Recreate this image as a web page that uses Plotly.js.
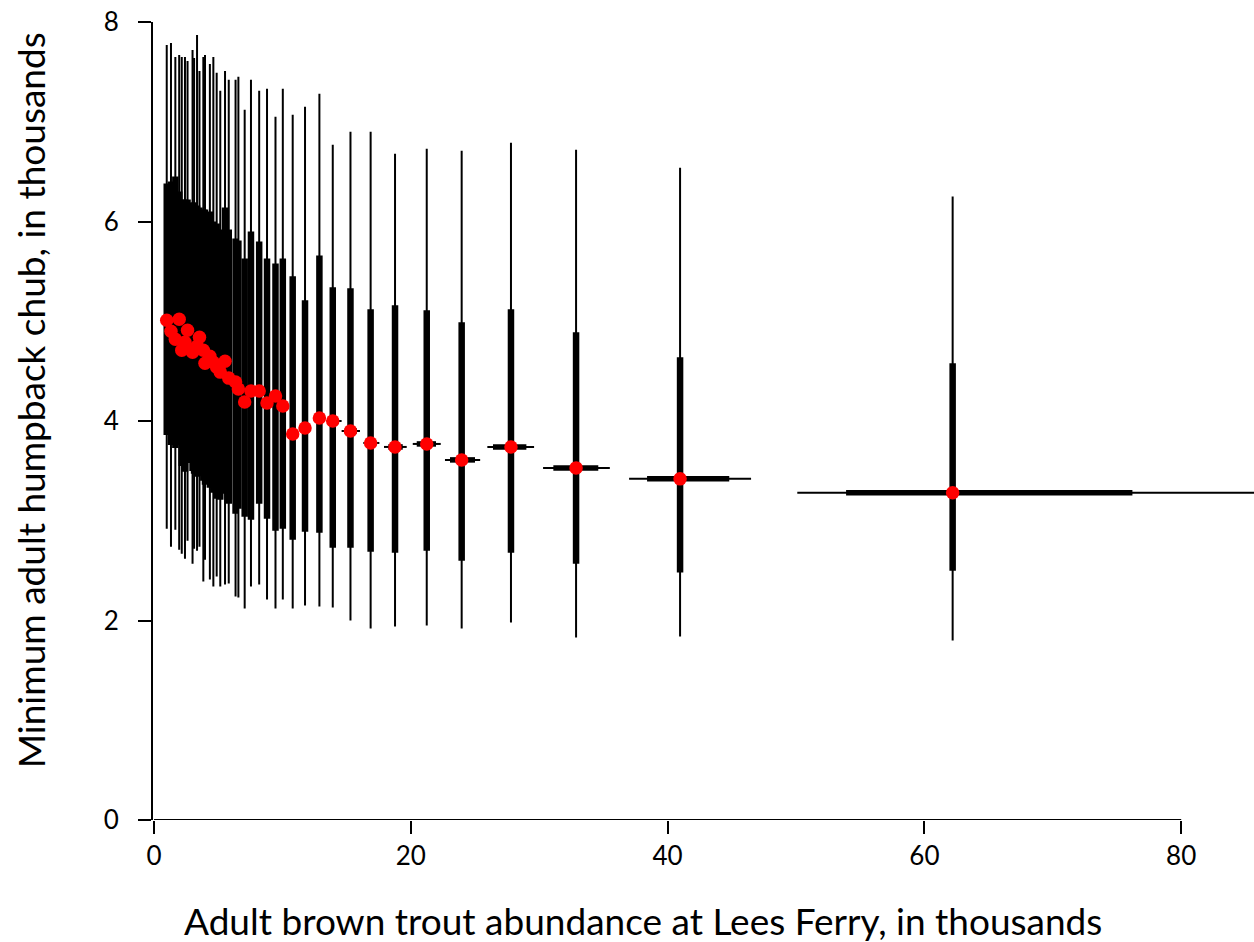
<!DOCTYPE html>
<html>
<head>
<meta charset="utf-8">
<script src="https://cdn.plot.ly/plotly-3.0.1.min.js"></script>
<style>
  html, body { margin: 0; padding: 0; background: #fff; }
  #chart { width: 1254px; height: 942px; }
</style>
</head>
<body>
<div id="chart"></div>
<script>
// Adult brown trout abundance (thousands): median and credible intervals
const troutMid  = [0.99, 1.32, 1.66, 1.96, 2.16, 2.41, 2.61, 3.00, 3.12, 3.35, 3.54, 3.84, 3.97, 4.35, 4.62, 4.88, 5.16, 5.53, 5.82, 6.35, 6.57, 7.06, 7.55, 8.19, 8.80, 9.46, 10.03,
                   10.80, 11.76, 12.88, 13.92, 15.30, 16.87, 18.77, 21.24, 23.96, 27.80, 32.87, 40.97, 62.20];
const troutLo95 = [0.95, 1.27, 1.60, 1.88, 2.07, 2.31, 2.51, 2.88, 3.00, 3.22, 3.40, 3.69, 3.81, 4.18, 4.44, 4.69, 4.95, 5.31, 5.59, 6.10, 6.31, 6.78, 7.25, 7.86, 8.45, 9.08, 9.60,
                   10.35, 11.30, 12.40, 13.44, 14.61, 16.30, 17.91, 20.15, 22.66, 25.96, 30.30, 37.00, 50.10];
const troutHi95 = [1.03, 1.37, 1.73, 2.04, 2.25, 2.51, 2.71, 3.12, 3.24, 3.48, 3.68, 3.99, 4.13, 4.52, 4.80, 5.08, 5.37, 5.75, 6.05, 6.60, 6.83, 7.34, 7.85, 8.52, 9.15, 9.84, 10.46,
                   11.25, 12.22, 13.36, 14.61, 16.04, 17.55, 19.68, 22.33, 25.40, 29.60, 35.50, 46.50, 90.00];
const troutLo50 = [0.97, 1.29, 1.62, 1.91, 2.11, 2.35, 2.55, 2.93, 3.04, 3.27, 3.45, 3.74, 3.87, 4.24, 4.50, 4.76, 5.03, 5.39, 5.67, 6.19, 6.41, 6.88, 7.36, 7.98, 8.58, 9.22, 9.78,
                   10.55, 11.50, 12.60, 13.60, 14.85, 16.50, 18.25, 20.46, 23.05, 26.40, 31.10, 38.40, 53.90];
const troutHi50 = [1.01, 1.35, 1.70, 2.01, 2.21, 2.47, 2.67, 3.07, 3.20, 3.43, 3.63, 3.94, 4.07, 4.46, 4.74, 5.00, 5.29, 5.67, 5.97, 6.51, 6.73, 7.24, 7.74, 8.40, 9.02, 9.70, 10.28,
                   11.05, 12.02, 13.16, 14.30, 15.80, 17.30, 19.37, 21.96, 25.00, 29.00, 34.60, 44.80, 76.20];

// Minimum adult humpback chub (thousands): median and credible intervals
const chubMid  = [5.01, 4.90, 4.82, 5.02, 4.71, 4.79, 4.91, 4.69, 4.72, 4.75, 4.84, 4.71, 4.58, 4.65, 4.59, 4.54, 4.49, 4.60, 4.43, 4.39, 4.32, 4.19, 4.30, 4.30, 4.18, 4.25, 4.15,
                  3.87, 3.93, 4.03, 4.00, 3.90, 3.78, 3.74, 3.77, 3.61, 3.74, 3.53, 3.42, 3.28];
const chubLo95 = [2.92, 2.74, 2.91, 2.71, 2.67, 2.62, 2.80, 2.57, 2.72, 2.70, 2.74, 2.39, 2.61, 2.41, 2.34, 2.44, 2.34, 2.36, 2.37, 2.24, 2.23, 2.12, 2.34, 2.36, 2.21, 2.12, 2.21,
                  2.12, 2.15, 2.14, 2.13, 2.00, 1.92, 1.94, 1.95, 1.92, 1.98, 1.83, 1.84, 1.80];
const chubHi95 = [7.77, 7.79, 7.65, 7.67, 7.65, 7.65, 7.61, 7.72, 7.64, 7.87, 7.51, 7.65, 7.67, 7.58, 7.65, 7.49, 7.31, 7.51, 7.42, 7.42, 7.45, 7.12, 7.42, 7.31, 7.33, 7.05, 7.33,
                  7.07, 7.15, 7.28, 6.77, 6.90, 6.90, 6.68, 6.73, 6.71, 6.79, 6.72, 6.54, 6.25];
const chubLo50 = [3.86, 3.76, 3.73, 3.76, 3.55, 3.49, 3.58, 3.50, 3.47, 3.44, 3.45, 3.40, 3.36, 3.33, 3.28, 3.22, 3.21, 3.27, 3.17, 3.07, 3.12, 3.04, 3.01, 3.17, 3.02, 2.90, 2.92,
                  2.81, 2.89, 2.88, 2.73, 2.73, 2.69, 2.68, 2.70, 2.60, 2.68, 2.57, 2.48, 2.50];
const chubHi50 = [6.38, 6.40, 6.45, 6.30, 6.22, 6.22, 6.22, 6.19, 6.19, 6.16, 6.14, 6.12, 6.12, 6.10, 6.00, 5.98, 5.92, 6.14, 5.92, 5.83, 5.81, 5.63, 5.90, 5.80, 5.63, 5.58, 5.63,
                  5.45, 5.21, 5.66, 5.34, 5.33, 5.12, 5.16, 5.11, 4.99, 5.12, 4.89, 4.64, 4.58];

const xTicks = [0, 20, 40, 60, 80];
const yTicks = [0, 2, 4, 6, 8];

const xTitle = 'Adult brown trout abundance at Lees Ferry, in thousands';
const yTitle = 'Minimum adult humpback chub, in thousands';

const plus  = (hi, mid) => hi.map((v, i) => v - mid[i]);
const minus = (lo, mid) => lo.map((v, i) => mid[i] - v);

// 95% intervals: thin lines
const outer = {
  type: 'scatter', mode: 'markers',
  x: troutMid, y: chubMid,
  marker: { size: 1, opacity: 0 },
  error_y: { type: 'data', symmetric: false, array: plus(chubHi95, chubMid), arrayminus: minus(chubLo95, chubMid),
             color: '#000', thickness: 2, width: 0 },
  error_x: { type: 'data', symmetric: false, array: plus(troutHi95, troutMid), arrayminus: minus(troutLo95, troutMid),
             color: '#000', thickness: 2, width: 0, copy_ystyle: false },
  hoverinfo: 'skip', showlegend: false
};

// 50% intervals: thick lines, medians as red dots
const inner = {
  type: 'scatter', mode: 'markers',
  x: troutMid, y: chubMid,
  marker: { size: 13.5, color: '#ff0000', line: { width: 0 } },
  error_y: { type: 'data', symmetric: false, array: plus(chubHi50, chubMid), arrayminus: minus(chubLo50, chubMid),
             color: '#000', thickness: 6.5, width: 0 },
  error_x: { type: 'data', symmetric: false, array: plus(troutHi50, troutMid), arrayminus: minus(troutLo50, troutMid),
             color: '#000', thickness: 5.5, width: 0, copy_ystyle: false },
  showlegend: false
};

const FONT = 'Lato, "Open Sans", sans-serif';

const layout = {
  width: 1254, height: 942,
  margin: { l: 153, r: 0, t: 22, b: 122 },
  paper_bgcolor: '#fff', plot_bgcolor: '#fff',
  font: { family: FONT, color: '#000', size: 26 },
  showlegend: false,
  xaxis: {
    range: [-0.08, 85.67],
    tickvals: xTicks, ticktext: xTicks.map(String),
    ticks: 'outside', ticklen: 13, tickwidth: 2, tickcolor: '#000',
    showline: false, showgrid: false, zeroline: false,
    tickfont: { size: 26, family: FONT }
  },
  yaxis: {
    range: [0, 8],
    tickvals: yTicks, ticktext: yTicks.map(String),
    ticks: 'outside', ticklen: 13, tickwidth: 2, tickcolor: '#000',
    showline: true, linewidth: 2, linecolor: '#000',
    showgrid: false, zeroline: false,
    ticklabelstandoff: 14,
    tickfont: { size: 26, family: FONT }
  },
  shapes: [
    { type: 'line', xref: 'x', yref: 'y', x0: 0, x1: 80, y0: 0, y1: 0,
      line: { color: '#000', width: 2 }, layer: 'above' }
  ],
  annotations: [
    { text: xTitle, xref: 'paper', yref: 'paper', x: 0.445, y: -0.1265,
      xanchor: 'center', yanchor: 'middle', showarrow: false,
      font: { size: 37, family: FONT } },
    { text: yTitle, xref: 'paper', yref: 'paper', x: -0.1117, y: 0.526,
      xanchor: 'center', yanchor: 'middle', showarrow: false, textangle: -90,
      font: { size: 37, family: FONT } }
  ]
};

Plotly.newPlot('chart', [outer, inner], layout, { staticPlot: true, displayModeBar: false });
</script>
</body>
</html>
